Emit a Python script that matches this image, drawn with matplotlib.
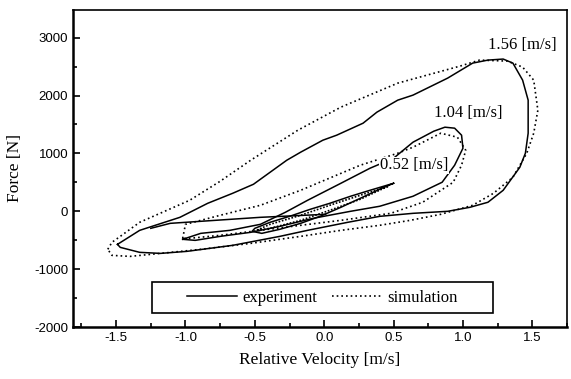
import matplotlib
matplotlib.use("Agg")
import matplotlib.pyplot as plt
from matplotlib.patches import Rectangle
from matplotlib.ticker import MultipleLocator

# 1.56 m/s loop
exp_156_v = [-1.49, -1.33, -1.04, -0.84, -0.66, -0.51, -0.27, -0.17, -0.01, 0.09, 0.28, 0.38,
             0.53, 0.64, 0.89, 1.07, 1.18, 1.29, 1.36, 1.43, 1.47, 1.47, 1.45, 1.41, 1.29,
             1.18, 1.05, 0.89, 0.64, 0.40, 0.17, -0.12, -0.32, -0.66, -0.99, -1.18, -1.33,
             -1.47, -1.49]
exp_156_f = [-571, -329, -104, 138, 311, 467, 882, 1021, 1228, 1315, 1522, 1713,
             1920, 2007, 2301, 2560, 2612, 2630, 2560, 2266, 1920, 1349, 1003, 761, 363,
             156, 69, 0, -35, -87, -190, -329, -433, -588, -692, -727, -709,
             -623, -571]
sim_156_v = [-1.56, -1.53, -1.47, -1.33, -0.97, -0.75, -0.53, -0.19, 0.12, 0.53, 0.98, 1.12,
             1.32, 1.43, 1.51, 1.54, 1.51, 1.46, 1.36, 1.22, 1.07, 0.84, 0.62, 0.40, 0.12,
             -0.17, -0.53, -0.89, -1.18, -1.40, -1.53, -1.56]
sim_156_f = [-657, -536, -433, -190, 190, 519, 882, 1401, 1799, 2214, 2509, 2612,
             2595, 2491, 2266, 1747, 1349, 1003, 588, 311, 104, -52, -156, -242, -329,
             -433, -554, -657, -727, -779, -761, -657]

# 1.04 m/s loop
exp_104_v = [-1.02, -0.89, -0.68, -0.46, -0.28, -0.12, 0.12, 0.33, 0.50, 0.64, 0.79, 0.87,
             0.94, 0.99, 1.00, 0.94, 0.85, 0.64, 0.40, 0.19, -0.08, -0.32, -0.53, -0.75,
             -0.93, -1.02]
exp_104_f = [-484, -381, -329, -225, -17, 190, 484, 744, 917, 1194, 1384, 1453,
             1436, 1315, 1090, 796, 502, 260, 87, 0, -121, -260, -363, -433,
             -502, -484]
sim_104_v = [-1.02, -1.00, -0.75, -0.46, -0.17, 0.26, 0.53, 0.64, 0.84, 0.96, 1.02, 0.99,
             0.93, 0.71, 0.48, 0.12, -0.17, -0.46, -0.75, -0.97, -1.02]
sim_104_f = [-467, -225, -69, 104, 363, 796, 1003, 1107, 1349, 1280, 1055, 796,
             502, 156, -35, -156, -242, -329, -415, -467, -467]

# 0.52 m/s loop
exp_052_v = [0.50, 0.33, 0.19, 0.04, -0.10, -0.25, -0.39, -0.50, -0.52, -0.45, -0.32, -0.17,
             -0.03, 0.12, 0.26, 0.40, 0.50]
exp_052_f = [484, 363, 260, 138, 35, -87, -190, -294, -346, -381, -311, -208,
             -87, 69, 225, 381, 484]
sim_052_v = [0.46, 0.26, 0.04, -0.17, -0.39, -0.49, -0.39, -0.17, 0.04, 0.26, 0.46]
sim_052_f = [432, 277, 104, -69, -225, -329, -294, -156, 17, 208, 432]

# straight stretch of the measured trace
exp_chord_v = [-1.25, -1.11, -0.46, 0.01]
exp_chord_f = [-294, -208, -104, -52]

labels = ['1.56 [m/s]', '1.04 [m/s]', '0.52 [m/s]']
label_v = [1.18, 0.79, 0.40]
label_f = [2872, 1695, 796]

serif = ['Liberation Serif', 'DejaVu Serif']
sans = ['Liberation Sans', 'DejaVu Sans']

fig = plt.figure(figsize=(5.71, 3.79), dpi=100)
ax = fig.add_axes([0.128, 0.137, 0.865, 0.837])

lw = 1.1
dots = (0, (1, 1.8))
ax.plot(exp_156_v, exp_156_f, color='black', lw=lw, label='experiment')
ax.plot(exp_104_v, exp_104_f, color='black', lw=lw)
ax.plot(exp_052_v, exp_052_f, color='black', lw=lw)
ax.plot(exp_chord_v, exp_chord_f, color='black', lw=lw)
ax.plot(sim_156_v, sim_156_f, color='black', lw=1.2, ls=dots, label='simulation')
ax.plot(sim_104_v, sim_104_f, color='black', lw=1.2, ls=dots)
ax.plot(sim_052_v, sim_052_f, color='black', lw=1.2, ls=(0, (1, 1.0)))

for t, x, y in zip(labels, label_v, label_f):
    ax.text(x, y, t, fontsize=12, family=serif, va='center', ha='left',
            bbox=dict(facecolor='white', edgecolor='none', pad=0.5))

ax.set_xlim(-1.81, 1.75)
ax.set_ylim(-2000, 3480)
ax.xaxis.set_major_locator(MultipleLocator(0.5))
ax.xaxis.set_minor_locator(MultipleLocator(0.25))
ax.yaxis.set_major_locator(MultipleLocator(1000))
ax.yaxis.set_minor_locator(MultipleLocator(500))
ax.tick_params(which='both', direction='in', width=1.2, labelsize=9.5)
ax.tick_params(which='major', length=5)
ax.tick_params(which='minor', length=3)
ax.set_xticks(ax.get_xticks())
ax.set_xticklabels(['%.1f' % t for t in ax.get_xticks()])
ax.set_yticks(ax.get_yticks())
ax.set_yticklabels(['%d' % t for t in ax.get_yticks()])
for lab in ax.get_xticklabels() + ax.get_yticklabels():
    lab.set_family(sans)
ax.set_xlim(-1.81, 1.75)
ax.set_ylim(-2000, 3480)

for s in ax.spines.values():
    s.set_linewidth(1.2)
ax.spines['left'].set_linewidth(1.8)
ax.spines['bottom'].set_linewidth(1.8)

ax.set_xlabel('Relative Velocity [m/s]', fontsize=12.5, family=serif, labelpad=6)
ax.set_ylabel('Force [N]', fontsize=12.5, family=serif, labelpad=8)

# legend box drawn separately so the entries sit in its middle
ax.add_patch(Rectangle((0.16, 0.044), 0.69, 0.098, transform=ax.transAxes,
                       fill=False, edgecolor='black', lw=1.2, zorder=5))
ax.legend(ncol=2, loc='center', bbox_to_anchor=(0.505, 0.093), frameon=False,
          handlelength=3.0, columnspacing=0.9, handletextpad=0.3,
          prop={'family': serif, 'size': 12})

fig.savefig('out.png', dpi=100)
